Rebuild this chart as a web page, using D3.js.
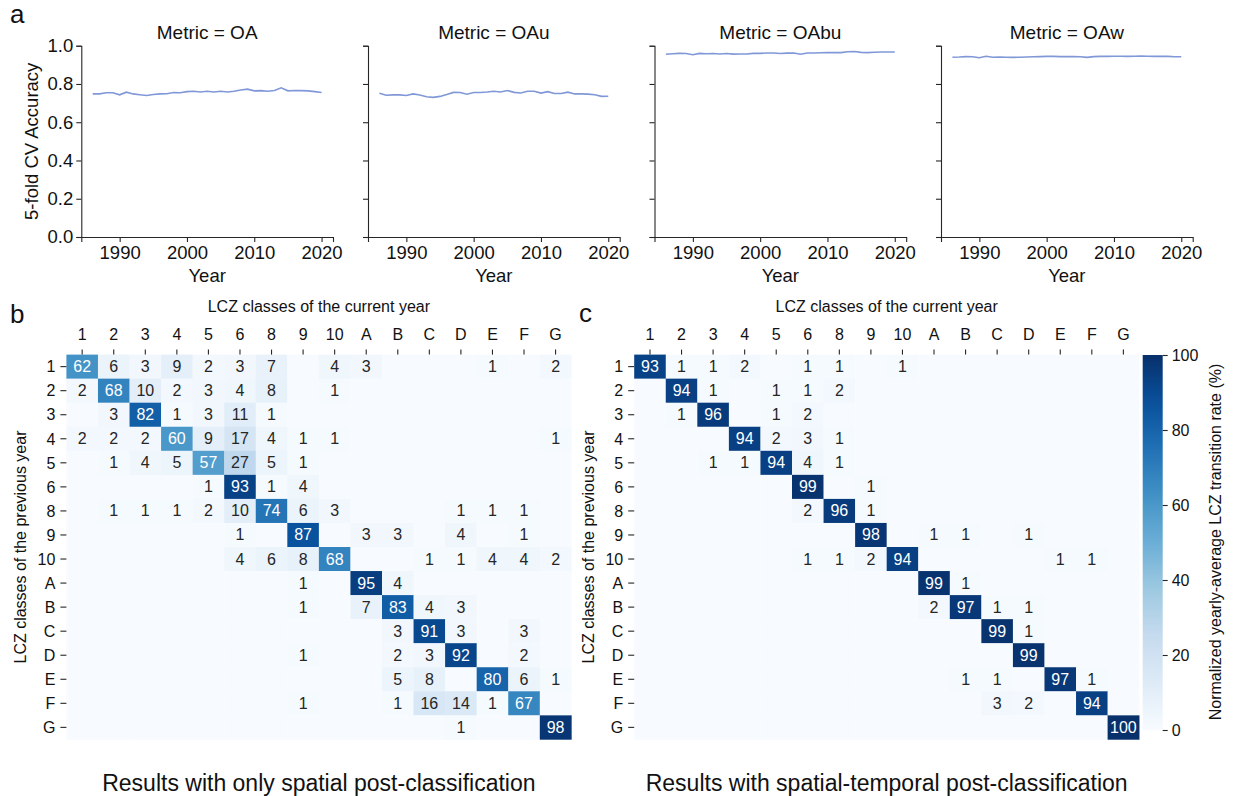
<!DOCTYPE html>
<html>
<head>
<meta charset="utf-8">
<script src="https://cdn.jsdelivr.net/npm/d3@7"></script>
<style>
  body { margin: 0; background: #fff; }
  svg { font-family: "Liberation Sans", Arial, sans-serif; }
</style>
</head>
<body>
<div id="chart"></div>
<script>
// ---- data ----
var years = [1986, 1987, 1988, 1989, 1990, 1991, 1992, 1993, 1994, 1995, 1996, 1997,
             1998, 1999, 2000, 2001, 2002, 2003, 2004, 2005, 2006, 2007, 2008, 2009,
             2010, 2011, 2012, 2013, 2014, 2015, 2016, 2017, 2018, 2019, 2020];
var metrics = ["OA", "OAu", "OAbu", "OAw"];

var accOA   = [0.748, 0.748, 0.754, 0.754, 0.743, 0.757, 0.748, 0.744, 0.740, 0.745, 0.748, 0.749,
               0.755, 0.754, 0.760, 0.762, 0.758, 0.762, 0.758, 0.762, 0.758, 0.762, 0.768, 0.773,
               0.764, 0.765, 0.762, 0.766, 0.780, 0.764, 0.766, 0.765, 0.764, 0.760, 0.755];
var accOAu  = [0.752, 0.741, 0.743, 0.743, 0.740, 0.748, 0.742, 0.733, 0.730, 0.735, 0.745, 0.756,
               0.755, 0.746, 0.755, 0.755, 0.758, 0.762, 0.758, 0.766, 0.756, 0.753, 0.762, 0.762,
               0.752, 0.760, 0.750, 0.750, 0.757, 0.748, 0.748, 0.747, 0.744, 0.735, 0.736];
var accOAbu = [0.955, 0.958, 0.960, 0.959, 0.953, 0.960, 0.958, 0.959, 0.957, 0.959, 0.956, 0.957,
               0.957, 0.960, 0.960, 0.962, 0.962, 0.959, 0.961, 0.962, 0.955, 0.962, 0.962, 0.963,
               0.964, 0.964, 0.964, 0.968, 0.970, 0.965, 0.964, 0.966, 0.967, 0.967, 0.967];
var accOAw  = [0.940, 0.941, 0.943, 0.942, 0.937, 0.945, 0.940, 0.941, 0.940, 0.939, 0.940, 0.941,
               0.942, 0.943, 0.944, 0.944, 0.943, 0.943, 0.943, 0.942, 0.939, 0.943, 0.944, 0.944,
               0.945, 0.945, 0.944, 0.945, 0.946, 0.945, 0.944, 0.945, 0.944, 0.942, 0.942];

var lczClasses = ["1", "2", "3", "4", "5", "6", "8", "9", "10", "A", "B", "C", "D", "E", "F", "G"];

// rows = previous year, columns = current year (%)
var spatialOnly = [
  [62, 6, 3, 9, 2, 3, 7, 0, 4, 3, 0, 0, 0, 1, 0, 2],
  [2, 68, 10, 2, 3, 4, 8, 0, 1, 0, 0, 0, 0, 0, 0, 0],
  [0, 3, 82, 1, 3, 11, 1, 0, 0, 0, 0, 0, 0, 0, 0, 0],
  [2, 2, 2, 60, 9, 17, 4, 1, 1, 0, 0, 0, 0, 0, 0, 1],
  [0, 1, 4, 5, 57, 27, 5, 1, 0, 0, 0, 0, 0, 0, 0, 0],
  [0, 0, 0, 0, 1, 93, 1, 4, 0, 0, 0, 0, 0, 0, 0, 0],
  [0, 1, 1, 1, 2, 10, 74, 6, 3, 0, 0, 0, 1, 1, 1, 0],
  [0, 0, 0, 0, 0, 1, 0, 87, 0, 3, 3, 0, 4, 0, 1, 0],
  [0, 0, 0, 0, 0, 4, 6, 8, 68, 0, 0, 1, 1, 4, 4, 2],
  [0, 0, 0, 0, 0, 0, 0, 1, 0, 95, 4, 0, 0, 0, 0, 0],
  [0, 0, 0, 0, 0, 0, 0, 1, 0, 7, 83, 4, 3, 0, 0, 0],
  [0, 0, 0, 0, 0, 0, 0, 0, 0, 0, 3, 91, 3, 0, 3, 0],
  [0, 0, 0, 0, 0, 0, 0, 1, 0, 0, 2, 3, 92, 0, 2, 0],
  [0, 0, 0, 0, 0, 0, 0, 0, 0, 0, 5, 8, 0, 80, 6, 1],
  [0, 0, 0, 0, 0, 0, 0, 1, 0, 0, 1, 16, 14, 1, 67, 0],
  [0, 0, 0, 0, 0, 0, 0, 0, 0, 0, 0, 0, 1, 0, 0, 98]
];
var spatioTemporal = [
  [93, 1, 1, 2, 0, 1, 1, 0, 1, 0, 0, 0, 0, 0, 0, 0],
  [0, 94, 1, 0, 1, 1, 2, 0, 0, 0, 0, 0, 0, 0, 0, 0],
  [0, 1, 96, 0, 1, 2, 0, 0, 0, 0, 0, 0, 0, 0, 0, 0],
  [0, 0, 0, 94, 2, 3, 1, 0, 0, 0, 0, 0, 0, 0, 0, 0],
  [0, 0, 1, 1, 94, 4, 1, 0, 0, 0, 0, 0, 0, 0, 0, 0],
  [0, 0, 0, 0, 0, 99, 0, 1, 0, 0, 0, 0, 0, 0, 0, 0],
  [0, 0, 0, 0, 0, 2, 96, 1, 0, 0, 0, 0, 0, 0, 0, 0],
  [0, 0, 0, 0, 0, 0, 0, 98, 0, 1, 1, 0, 1, 0, 0, 0],
  [0, 0, 0, 0, 0, 1, 1, 2, 94, 0, 0, 0, 0, 1, 1, 0],
  [0, 0, 0, 0, 0, 0, 0, 0, 0, 99, 1, 0, 0, 0, 0, 0],
  [0, 0, 0, 0, 0, 0, 0, 0, 0, 2, 97, 1, 1, 0, 0, 0],
  [0, 0, 0, 0, 0, 0, 0, 0, 0, 0, 0, 99, 1, 0, 0, 0],
  [0, 0, 0, 0, 0, 0, 0, 0, 0, 0, 0, 0, 99, 0, 0, 0],
  [0, 0, 0, 0, 0, 0, 0, 0, 0, 0, 1, 1, 0, 97, 1, 0],
  [0, 0, 0, 0, 0, 0, 0, 0, 0, 0, 0, 3, 2, 0, 94, 0],
  [0, 0, 0, 0, 0, 0, 0, 0, 0, 0, 0, 0, 0, 0, 0, 100]
];
var colorbarTicks = [0, 20, 40, 60, 80, 100];

// ---- drawing ----
var ink = "#262626";
var svg = d3.select("#chart").append("svg")
    .attr("width", 1234)
    .attr("height", 796);

function styleAxis(sel, size) {
    sel.attr("font-family", null).attr("font-size", size);
    sel.selectAll("line").attr("stroke", ink).attr("stroke-width", 1.1);
    sel.selectAll("path").attr("stroke", ink).attr("stroke-width", 1.1);
    sel.selectAll("text").attr("fill", "#111");
}

// panel a: line charts
var series = [accOA, accOAu, accOAbu, accOAw];
var panelLeft = [81.3, 368, 654.5, 941];
var panelW = 251.7;
var y = d3.scaleLinear().domain([0, 1]).range([237, 45.7]);

series.forEach(function(vals, i) {
    var x = d3.scaleLinear().domain([1984.3, 2021.7])
        .range([panelLeft[i], panelLeft[i] + panelW]);
    var g = svg.append("g");

    g.append("g")
        .attr("transform", "translate(0,237)")
        .call(d3.axisBottom(x).tickValues([1990, 2000, 2010, 2020])
            .tickFormat(d3.format("d")).tickSizeOuter(0).tickSize(5).tickPadding(4))
        .call(styleAxis, "18.5px");

    g.append("g")
        .attr("transform", `translate(${panelLeft[i]},0)`)
        .call(d3.axisLeft(y).tickValues([0, 0.2, 0.4, 0.6, 0.8, 1.0])
            .tickFormat(i === 0 ? d3.format(".1f") : "").tickSizeOuter(0).tickSize(5).tickPadding(3))
        .call(styleAxis, "18.5px");

    var line = d3.line().x((d, k) => x(years[k])).y(d => y(d));
    g.append("path")
        .datum(vals)
        .attr("d", line)
        .attr("fill", "none")
        .attr("stroke", "#8098d8")
        .attr("stroke-width", 1.6);

    g.append("text")
        .attr("x", panelLeft[i] + panelW / 2)
        .attr("y", 39)
        .attr("text-anchor", "middle")
        .attr("font-size", "19px")
        .attr("fill", "#111")
        .text("Metric = " + metrics[i]);

    g.append("text")
        .attr("x", panelLeft[i] + panelW / 2)
        .attr("y", 282)
        .attr("text-anchor", "middle")
        .attr("font-size", "18.5px")
        .attr("fill", "#111")
        .text("Year");
});

svg.append("text")
    .attr("transform", "translate(31.6,141.3) rotate(-90)")
    .attr("text-anchor", "middle")
    .attr("dominant-baseline", "central")
    .attr("font-size", "18.5px")
    .attr("fill", "#111")
    .text("5-fold CV Accuracy");

// panels b and c: transition heatmaps (matplotlib Blues)
var bluesStops = ["#f7fbff", "#deebf7", "#c6dbef", "#9ecae1", "#6baed6",
                  "#4292c6", "#2171b5", "#08519c", "#08306b"];
var color = d3.scaleLinear()
    .domain(bluesStops.map((c, i) => i * 100 / 8))
    .range(bluesStops)
    .interpolate(d3.interpolateRgb);

function luminance(c) {
    var rgb = d3.rgb(c);
    var ch = [rgb.r, rgb.g, rgb.b].map(v => {
        v = v / 255;
        return v <= 0.03928 ? v / 12.92 : Math.pow((v + 0.055) / 1.055, 2.4);
    });
    return 0.2126 * ch[0] + 0.7152 * ch[1] + 0.0722 * ch[2];
}

var rowTop = 354.6, rowH = 24.05, cellW = 31.56;

function heatmap(matrix, left) {
    var xb = d3.scaleBand().domain(lczClasses).range([left, left + cellW * lczClasses.length]);
    var yb = d3.scaleBand().domain(lczClasses).range([rowTop, rowTop + rowH * lczClasses.length]);
    var g = svg.append("g");

    var cells = [];
    matrix.forEach((row, r) => row.forEach((v, c) => cells.push({r: lczClasses[r], c: lczClasses[c], v: v})));

    g.selectAll("rect.cell").data(cells).enter().append("rect")
        .attr("class", "cell")
        .attr("x", d => xb(d.c))
        .attr("y", d => yb(d.r))
        .attr("width", xb.bandwidth() + 0.3)
        .attr("height", yb.bandwidth() + 0.3)
        .attr("fill", d => color(d.v));

    g.selectAll("text.ann").data(cells.filter(d => d.v > 0)).enter().append("text")
        .attr("class", "ann")
        .attr("x", d => xb(d.c) + xb.bandwidth() / 2)
        .attr("y", d => yb(d.r) + yb.bandwidth() / 2)
        .attr("text-anchor", "middle")
        .attr("dominant-baseline", "central")
        .attr("font-size", "16px")
        .attr("fill", d => luminance(color(d.v)) > 0.408 ? "#262626" : "#ffffff")
        .text(d => d.v);

    g.append("g")
        .attr("transform", `translate(0,${rowTop})`)
        .call(d3.axisTop(xb).tickSize(5).tickPadding(9.6))
        .call(styleAxis, "16px")
        .call(s => s.select(".domain").remove());

    g.append("g")
        .attr("transform", `translate(${left},0)`)
        .call(d3.axisLeft(yb).tickSize(6).tickPadding(5))
        .call(styleAxis, "16px")
        .call(s => s.selectAll("text").attr("dy", "0.36em"))
        .call(s => s.select(".domain").remove());

    var mid = left + cellW * lczClasses.length / 2;
    g.append("text")
        .attr("x", mid)
        .attr("y", 311.7)
        .attr("text-anchor", "middle")
        .attr("font-size", "16px")
        .attr("fill", "#111")
        .text("LCZ classes of the current year");

    g.append("text")
        .attr("transform", `translate(${left - 46},${rowTop + rowH * 8}) rotate(-90)`)
        .attr("text-anchor", "middle")
        .attr("dominant-baseline", "central")
        .attr("font-size", "16px")
        .attr("fill", "#111")
        .text("LCZ classes of the previous year");
    return mid;
}

var midB = heatmap(spatialOnly, 66.4);
var midC = heatmap(spatioTemporal, 634.2);

// colorbar
var cb = d3.scaleLinear().domain([0, 100]).range([730, 355]);
var grad = svg.append("defs").append("linearGradient")
    .attr("id", "bluesGrad")
    .attr("x1", 0).attr("y1", 1).attr("x2", 0).attr("y2", 0);
d3.range(0, 101, 5).forEach(v => {
    grad.append("stop").attr("offset", v / 100).attr("stop-color", color(v));
});
svg.append("rect")
    .attr("x", 1142.7)
    .attr("y", cb(100))
    .attr("width", 20)
    .attr("height", cb(0) - cb(100))
    .attr("fill", "url(#bluesGrad)");
svg.append("g")
    .attr("transform", "translate(1162.7,0)")
    .call(d3.axisRight(cb).tickValues(colorbarTicks).tickSize(5).tickPadding(4))
    .call(styleAxis, "16px")
    .call(s => s.select(".domain").remove());
svg.append("text")
    .attr("transform", "translate(1215,542) rotate(-90)")
    .attr("text-anchor", "middle")
    .attr("dominant-baseline", "central")
    .attr("font-size", "16px")
    .attr("fill", "#111")
    .text("Normalized yearly-average LCZ transition rate (%)");

// panel letters and captions
[["a", 10, 23], ["b", 10, 323], ["c", 579, 322]].forEach(p => {
    svg.append("text")
        .attr("x", p[1]).attr("y", p[2])
        .attr("font-size", "26px")
        .attr("fill", "#111")
        .text(p[0]);
});
svg.append("text")
    .attr("x", midB).attr("y", 791)
    .attr("text-anchor", "middle")
    .attr("font-size", "23px")
    .attr("fill", "#111")
    .text("Results with only spatial post-classification");
svg.append("text")
    .attr("x", midC).attr("y", 791)
    .attr("text-anchor", "middle")
    .attr("font-size", "23px")
    .attr("fill", "#111")
    .text("Results with spatial-temporal post-classification");
</script>
</body>
</html>
